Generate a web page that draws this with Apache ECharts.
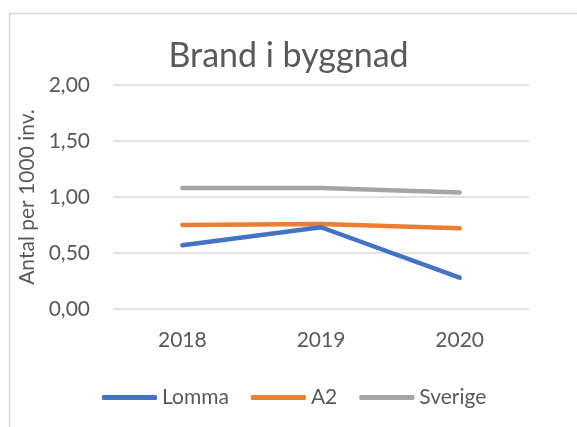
<!DOCTYPE html>
<html><head><meta charset="utf-8">
<script src="https://cdn.jsdelivr.net/npm/echarts@6/dist/echarts.min.js"></script>
<style>html,body{margin:0;padding:0;background:#fff}#c{width:577px;height:427px}</style>
</head><body><div id="c"></div>
<script>
const categories = ['2018', '2019', '2020'];
const lomma = [0.57, 0.73, 0.28];
const a2 = [0.75, 0.76, 0.72];
const sverige = [1.08, 1.08, 1.04];
const seriesNames = ['Lomma', 'A2', 'Sverige'];
const colors = ['#4472C4', '#ED7D31', '#A5A5A5'];
const txt = '#595959';
const ff = 'Lato, "Open Sans", sans-serif';
const chart = echarts.init(document.getElementById('c'));
chart.setOption({
  animation: false,
  graphic: [{type: 'rect', left: 7, top: 11, shape: {width: 600, height: 440}, style: {fill: 'none', stroke: '#D9D9D9', lineWidth: 1.5}, silent: true}],
  title: {text: 'Brand i byggnad', left: 'center', top: 34, textStyle: {fontFamily: ff, fontSize: 34, fontWeight: 'normal', color: txt}},
  grid: {left: 113, right: 48, top: 85, bottom: 118},
  legend: {
    data: seriesNames.map(n => ({name: n, icon: 'roundRect'})),
    left: 97, top: 382, itemWidth: 55, itemHeight: 5, itemGap: 22,
    textStyle: {fontFamily: ff, fontSize: 21, color: txt}
  },
  xAxis: {type: 'category', data: categories, boundaryGap: true,
    axisLine: {show: false}, axisTick: {show: false},
    axisLabel: {fontFamily: ff, fontSize: 21, color: txt, margin: 21}},
  yAxis: {type: 'value', min: 0, max: 2, interval: 0.5,
    name: 'Antal per 1000 inv.', nameLocation: 'middle', nameGap: 71, nameRotate: 90,
    nameTextStyle: {fontFamily: ff, fontSize: 21, color: txt},
    axisLabel: {fontFamily: ff, fontSize: 21, color: txt, margin: 23, formatter: v => v.toFixed(2).replace('.', ',')},
    splitLine: {lineStyle: {color: '#D9D9D9', width: 1.5}}},
  series: [lomma, a2, sverige].map((d, i) => ({
    name: seriesNames[i], type: 'line', data: d, symbol: 'none',
    lineStyle: {width: 4.5, color: colors[i], cap: 'round', join: 'round'},
    itemStyle: {color: colors[i]}, z: 3 - i
  }))
});
</script></body></html>
